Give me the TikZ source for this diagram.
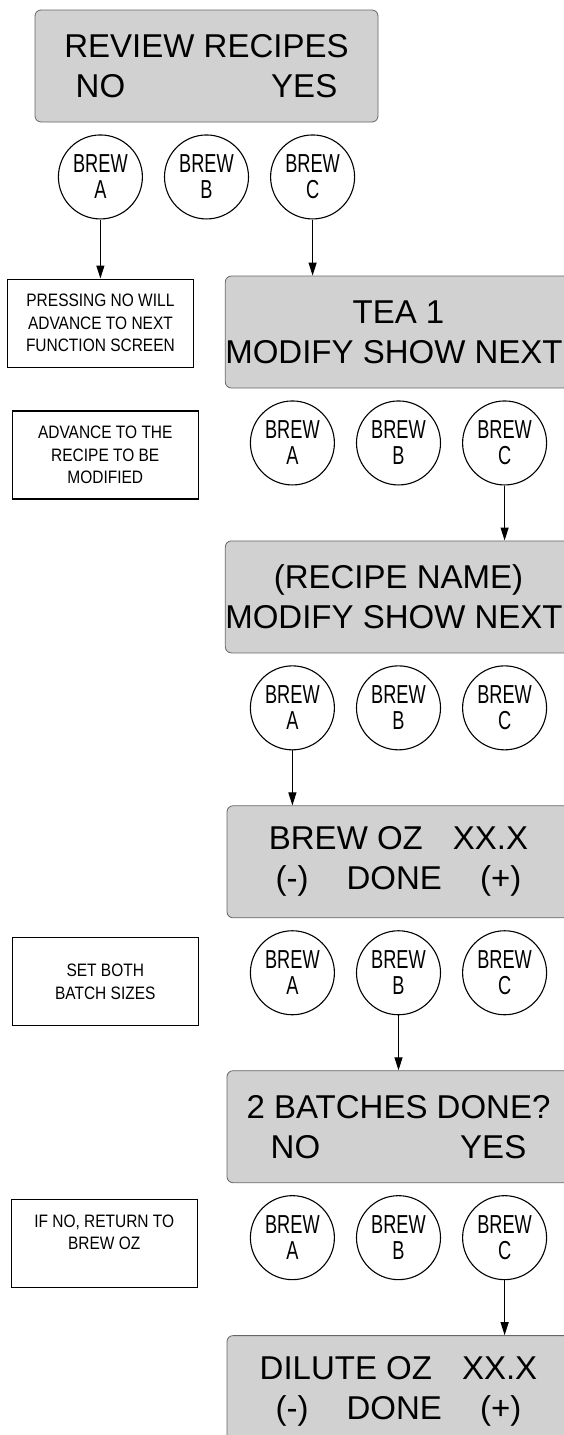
\documentclass[tikz,border=0pt]{standalone}
\usepackage{fontspec}
\setmainfont{Liberation Sans}
\newfontfamily\keyfont[FakeStretch=0.7]{Liberation Sans}
\newfontfamily\notefont[FakeStretch=0.86]{Liberation Sans}
\usepackage{tikz}
\usetikzlibrary{arrows.meta,positioning}

\begin{document}
\begin{tikzpicture}[
      x=1pt, y=-1pt,
      node distance=12pt and 21pt,
      disp/.style={draw=black!60, fill=black!18, rounded corners=6pt,
                   line width=0.8pt, minimum width=343pt, minimum height=112pt,
                   align=center, inner sep=0pt,
                   font=\fontsize{33}{40}\selectfont},
      key/.style={circle, draw, line width=1.1pt, minimum size=84pt,
                  inner sep=0pt, align=center,
                  font=\keyfont\fontsize{26}{26}\selectfont},
      note/.style={draw, line width=1.2pt, minimum width=186pt,
                   minimum height=88pt, align=center, inner sep=2pt,
                   font=\notefont\fontsize{18}{22.5}\selectfont},
      arr/.style={-{Triangle[length=13pt, width=8pt]}, line width=1.1pt},
    ]
    \useasboundingbox (0,0) rectangle (563,1435);

    % ── Row 1: Review recipes ───────────────────────────────
    \node[disp] (d1) at (206.5,66)
      {REVIEW RECIPES\\NO\hspace*{146pt}YES};
    \node[key, below=of d1] (b1) {BREW\\B};
    \node[key, left=of b1]  (a1) {BREW\\A};
    \node[key, right=of b1] (c1) {BREW\\C};

    \node[note, below=59pt of a1] (n1)
      {PRESSING NO WILL\\ADVANCE TO NEXT\\FUNCTION SCREEN};

    % ── Row 2: Tea 1 ────────────────────────────────────────
    \node[disp] (d2) at (398.5,332)
      {TEA 1\\MODIFY SHOW NEXT\hspace*{9pt}};
    \node[key, below=of d2] (b2) {BREW\\B};
    \node[key, left=of b2]  (a2) {BREW\\A};
    \node[key, right=of b2] (c2) {BREW\\C};

    \node[note, left=51pt of a2, yshift=-12pt] (n2)
      {ADVANCE TO THE\\RECIPE TO BE\\MODIFIED};

    % ── Row 3: Recipe name ──────────────────────────────────
    \node[disp, below=55pt of b2] (d3)
      {(RECIPE NAME)\\MODIFY SHOW NEXT\hspace*{9pt}};
    \node[key, below=of d3] (b3) {BREW\\B};
    \node[key, left=of b3]  (a3) {BREW\\A};
    \node[key, right=of b3] (c3) {BREW\\C};

    % ── Row 4: Brew oz ──────────────────────────────────────
    \node[disp, below=55pt of b3] (d4)
      {BREW OZ\hspace*{30pt}XX.X\\(-)\hspace*{38pt}DONE\hspace*{38pt}(+)};
    \node[key, below=of d4] (b4) {BREW\\B};
    \node[key, left=of b4]  (a4) {BREW\\A};
    \node[key, right=of b4] (c4) {BREW\\C};

    \node[note, left=51pt of a4, yshift=-9pt] (n3)
      {SET BOTH\\BATCH SIZES};

    % ── Row 5: Batches done ─────────────────────────────────
    \node[disp, below=55pt of b4] (d5)
      {2 BATCHES DONE?\\NO\hspace*{140pt}YES};
    \node[key, below=of d5] (b5) {BREW\\B};
    \node[key, left=of b5]  (a5) {BREW\\A};
    \node[key, right=of b5] (c5) {BREW\\C};

    \node[note, left=52pt of a5, yshift=-6pt] (n4)
      {IF NO, RETURN TO\\BREW OZ\\\mbox{}};

    % ── Row 6: Dilute oz ────────────────────────────────────
    \node[disp, below=55pt of b5] (d6)
      {DILUTE OZ\hspace*{30pt}XX.X\\(-)\hspace*{38pt}DONE\hspace*{38pt}(+)};

    % ── Arrows ──────────────────────────────────────────────
    \draw[arr] (a1.south) -- (n1.north);
    \draw[arr] (c1.south) -- (c1.south |- d2.north);
    \draw[arr] (c2.south) -- (c2.south |- d3.north);
    \draw[arr] (a3.south) -- (a3.south |- d4.north);
    \draw[arr] (b4.south) -- (b4.south |- d5.north);
    \draw[arr] (c5.south) -- (c5.south |- d6.north);
  \end{tikzpicture}
\end{document}
